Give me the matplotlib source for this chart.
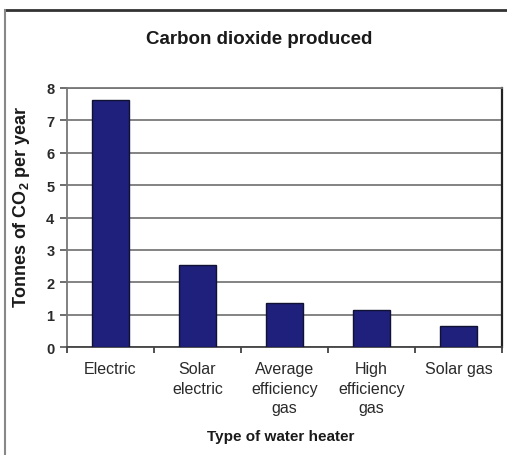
import matplotlib
matplotlib.use("Agg")
import matplotlib.pyplot as plt
from matplotlib.lines import Line2D
import numpy as np

categories = ["Electric", "Solar\nelectric", "Average\nefficiency\ngas",
              "High\nefficiency\ngas", "Solar gas"]
values = [7.62, 2.53, 1.36, 1.15, 0.66]
yticks = [0, 1, 2, 3, 4, 5, 6, 7, 8]

plt.rcParams['font.family'] = ['Liberation Sans', 'DejaVu Sans']
plt.rcParams['mathtext.fontset'] = 'custom'
plt.rcParams['mathtext.rm'] = 'Liberation Sans'
plt.rcParams['mathtext.bf'] = 'Liberation Sans:bold'

W, H = 507, 456
fig = plt.figure(figsize=(W / 100, H / 100), dpi=100)
fig.patch.set_facecolor('white')

L, R, T, B = 67, 502, 89, 348
ax = fig.add_axes([L / W, 1 - B / H, (R - L) / W, (B - T) / H])

x = np.arange(len(categories))
ax.bar(x, values, width=0.42, color='#1f1f7c', edgecolor='#111133', linewidth=1.0, zorder=3)

ax.set_xlim(-0.5, len(categories) - 0.5)
ax.set_ylim(0, 8)
ax.set_yticks(yticks)
ax.set_yticklabels([str(v) for v in yticks], fontsize=10.5, color='#2a2a2a', fontweight='bold')
ax.set_xticks(x)
ax.set_xticklabels(categories, fontsize=11.5, color='#2a2a2a', linespacing=1.4)
ax.set_xticks(np.arange(len(categories) + 1) - 0.5, minor=True)
ax.tick_params(axis='x', which='major', length=0, pad=10)
ax.tick_params(axis='x', which='minor', length=4, width=1.2, color='#333333', direction='out')
ax.tick_params(axis='y', length=5, width=1.2, color='#555555', direction='out', pad=4)

ax.grid(axis='y', color='#7a7a7a', linewidth=1.3, zorder=0)
for s in ['top', 'left']:
    ax.spines[s].set_color('#777777')
    ax.spines[s].set_linewidth(1.3)
ax.spines['bottom'].set_color('#444444')
ax.spines['bottom'].set_linewidth(1.3)
ax.spines['right'].set_color('#222222')
ax.spines['right'].set_linewidth(1.6)

ax.set_ylabel(r'Tonnes of CO$_\mathbf{2}$ per year', fontsize=13, fontweight='bold',
              color='#1a1a1a', va='center')
ax.yaxis.set_label_coords((22 - L) / (R - L), (B - 207) / (B - T))
ax.set_xlabel('Type of water heater', fontsize=11, fontweight='bold',
              color='#1a1a1a', va='center')
ax.xaxis.set_label_coords((281 - L) / (R - L), (B - 437) / (B - T))

fig.text(259 / W, 1 - 40 / H, 'Carbon dioxide produced', fontsize=13.5,
         fontweight='bold', color='#1a1a1a', ha='center', va='center')

# outer frame (top and left edges)
fig.add_artist(Line2D([5 / W, 1.0], [1 - 11 / H, 1 - 11 / H], color='#333333', linewidth=2.0,
                      transform=fig.transFigure))
fig.add_artist(Line2D([5 / W, 5 / W], [1 - 11 / H, 0.0], color='#888888', linewidth=1.5,
                      transform=fig.transFigure))

fig.savefig('out.png', dpi=100, facecolor='white')
